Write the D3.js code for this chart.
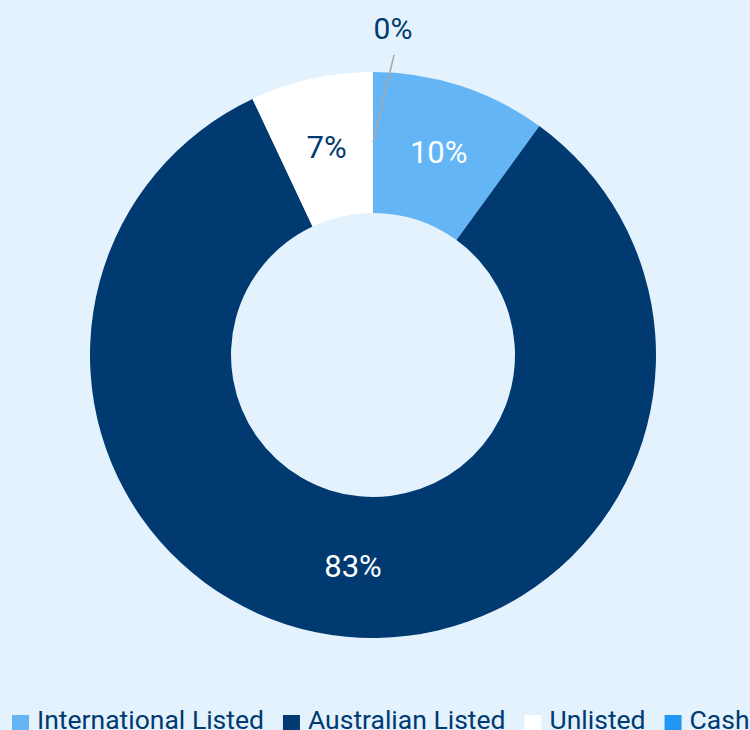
<!DOCTYPE html>
<html>
<head>
<meta charset="utf-8">
<script src="https://cdn.jsdelivr.net/npm/d3@7"></script>
<style>
  html, body { margin: 0; padding: 0; background: #e3f2fd; overflow: hidden; }
  svg { display: block; font-family: Roboto, "Noto Sans", sans-serif; }
</style>
</head>
<body>
<div id="chart"></div>
<script>
// data
const categories = ["International Listed", "Australian Listed", "Unlisted", "Cash"];
const values = [10, 83, 7, 0];
const colors = ["#64b5f6", "#003a70", "#ffffff", "#2196f3"];
const labelColors = ["#ffffff", "#ffffff", "#003a70", "#003a70"];

const width = 750, height = 730;
const cx = 373, cy = 355;
const outerR = 283, innerR = 142;

const svg = d3.select("#chart").append("svg")
    .attr("width", width)
    .attr("height", height);

svg.append("rect")
    .attr("width", width)
    .attr("height", height)
    .attr("fill", "#e3f2fd");

const data = categories.map((c, i) => ({ name: c, value: values[i], color: colors[i], label: labelColors[i] }));

const pie = d3.pie().value(d => d.value).sort(null);
const arcs = pie(data);

const arc = d3.arc().innerRadius(innerR).outerRadius(outerR);

const g = svg.append("g").attr("transform", `translate(${cx},${cy})`);

g.selectAll("path.slice")
    .data(arcs)
    .enter()
    .append("path")
    .attr("class", "slice")
    .attr("d", arc)
    .attr("fill", d => d.data.color);

// labels inside slices (non-zero), outside with leader line for zero
arcs.forEach(d => {
    const [x, y] = arc.centroid(d);
    const txt = Math.round(d.data.value) + "%";
    if (d.data.value > 0) {
        g.append("text")
            .attr("x", x)
            .attr("y", y)
            .attr("text-anchor", "middle")
            .attr("dominant-baseline", "central")
            .attr("font-size", 31)
            .attr("fill", d.data.label)
            .text(txt);
    } else {
        const lx = x + 21, ly = -300;
        g.append("line")
            .attr("x1", x).attr("y1", y)
            .attr("x2", lx).attr("y2", ly)
            .attr("stroke", "#a8a8a8")
            .attr("stroke-width", 1.5);
        g.append("text")
            .attr("x", lx - 1)
            .attr("y", ly - 27)
            .attr("text-anchor", "middle")
            .attr("dominant-baseline", "central")
            .attr("font-size", 30)
            .attr("fill", d.data.label)
            .text(txt);
    }
});

// legend - laid out left to right by measured text width
const legend = svg.append("g");
let lx = 12;
categories.forEach((c, i) => {
    legend.append("rect")
        .attr("x", lx)
        .attr("y", 715)
        .attr("width", 17)
        .attr("height", 17)
        .attr("fill", colors[i]);
    const t = legend.append("text")
        .attr("x", lx + 25)
        .attr("y", 729)
        .attr("font-size", 26.5)
        .attr("fill", "#003a70")
        .text(c);
    lx = lx + 25 + t.node().getComputedTextLength() + 19;
});
</script>
</body>
</html>
